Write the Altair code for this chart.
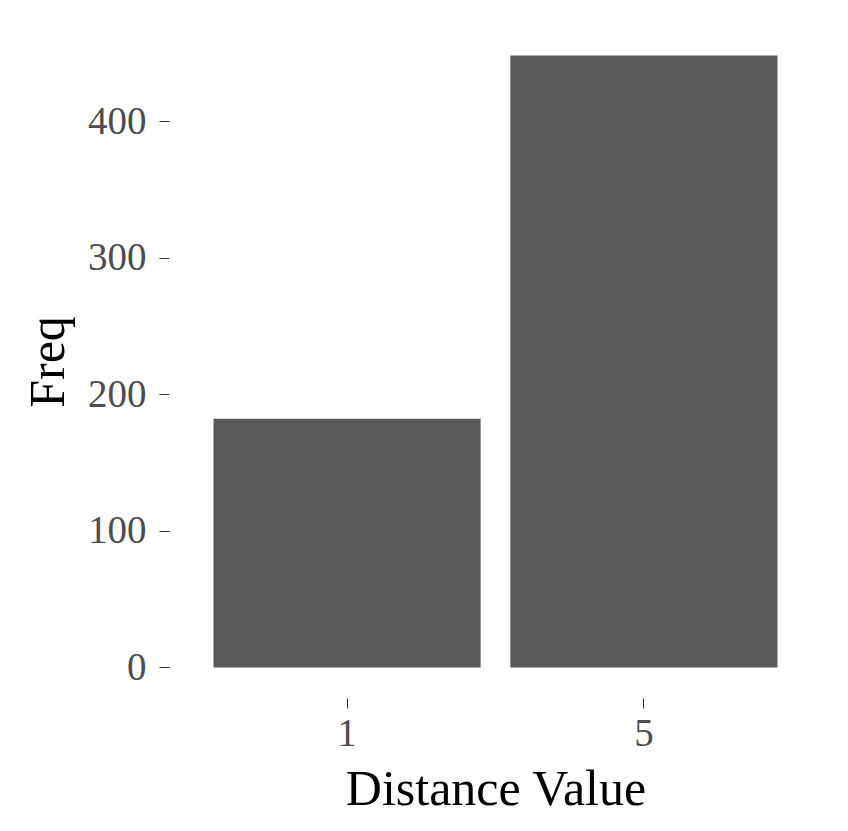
import altair as alt
import pandas as pd

categories = ["1", "5"]
freqs = [182, 448]

df = pd.DataFrame({"Distance Value": categories, "Freq": freqs})

FONT = "Liberation Serif"

chart = alt.Chart(df).mark_bar(color="#595959").encode(
    x=alt.X("Distance Value:N",
            scale=alt.Scale(paddingInner=0.1, paddingOuter=0.15),
            axis=alt.Axis(labelAngle=0, title="Distance Value", titlePadding=11, labelPadding=6)),
    y=alt.Y("Freq:Q",
            scale=alt.Scale(domain=[-22.4, 470.4], nice=False, zero=False),
            axis=alt.Axis(values=[0, 100, 200, 300, 400], title="Freq", titlePadding=14, labelPadding=13)),
    y2=alt.datum(0),
).properties(
    width=653, height=673,
    autosize=alt.AutoSizeParams(type="none"),
    padding={"left": 161, "top": 17, "right": 18, "bottom": 125},
).configure_view(stroke=None).configure_axis(
    domain=False, grid=False,
    tickColor="#333333", tickSize=10, tickWidth=1,
    labelFont=FONT, labelFontSize=39, labelColor="#4d4d4d",
    titleFont=FONT, titleFontSize=50, titleColor="#000000", titleFontWeight="normal",
)

chart.save("out.html", embed_options={"renderer": "svg", "actions": False})
